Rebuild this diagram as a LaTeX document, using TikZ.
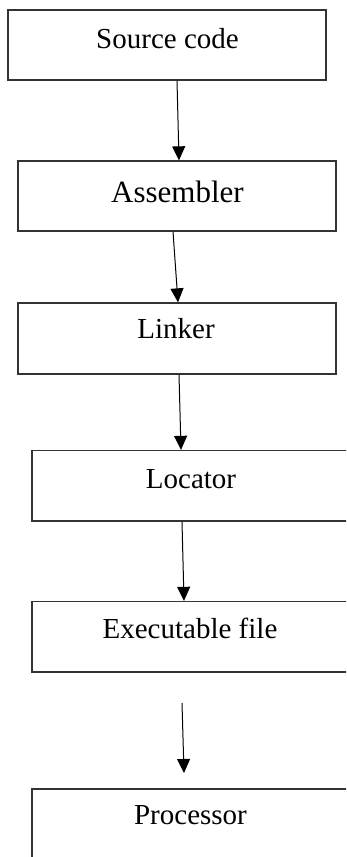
\documentclass[tikz,border=0pt]{standalone}
\usepackage{fontspec}
\setmainfont{Liberation Serif}
\usetikzlibrary{arrows.meta}
\definecolor{boxline}{HTML}{333333}
\tikzset{
  stagebox/.style={draw=boxline, line width=1.3pt, fill=white, inner sep=0pt,
    minimum width=318pt},
  stagetext/.style={anchor=base, inner sep=0pt, font=\fontsize{29}{34}\selectfont},
  flow/.style={draw=black, line width=1pt, -{Triangle[width=13pt,length=14pt]}}
}
\begin{document}
\begin{tikzpicture}[x=1pt,y=-1pt]
  \useasboundingbox (0,0) rectangle (346,857);
  \clip (0,0) rectangle (346,857);
  \fill[white] (0,0) rectangle (346,857);

  % stages of the build chain
  \node[stagebox, minimum height=70pt]   (src) at (167,45)     {};
  \node[stagebox, minimum height=70pt]   (asm) at (177,196)    {};
  \node[stagebox, minimum height=71pt]   (lnk) at (177,338.5)  {};
  \node[stagebox, minimum height=70.5pt] (loc) at (191,485.75) {};
  \node[stagebox, minimum height=70.5pt] (exe) at (191,636.75) {};
  \node[stagebox, minimum height=71pt]   (cpu) at (191,824.5)  {};

  \node[stagetext] (srct) at (167.5,48) {Source code};
  \node[stagetext, font=\fontsize{31}{36}\selectfont] (asmt) at (177.5,202) {Assembler};
  \node[stagetext] (lnkt) at (176,338) {Linker};
  \node[stagetext] (loct) at (191,488) {Locator};
  \node[stagetext] (exet) at (190,638) {Executable file};
  \node[stagetext] (cput) at (190.5,824) {Processor};

  % connectors
  \draw[flow] ([xshift=10pt]src.south) -- ([xshift=2pt]asm.north);
  \draw[flow] ([xshift=-4pt]asm.south) -- ([xshift=1pt]lnk.north);
  \draw[flow] ([xshift=2pt]lnk.south) -- ([xshift=-10pt]loc.north);
  \draw[flow] ([xshift=-9pt]loc.south) -- ([xshift=-7pt]exe.north);
  \coordinate (gapA) at (182,703);
  \coordinate (gapB) at (184,773);
  \draw[flow] (gapA) -- (gapB);
\end{tikzpicture}
\end{document}
